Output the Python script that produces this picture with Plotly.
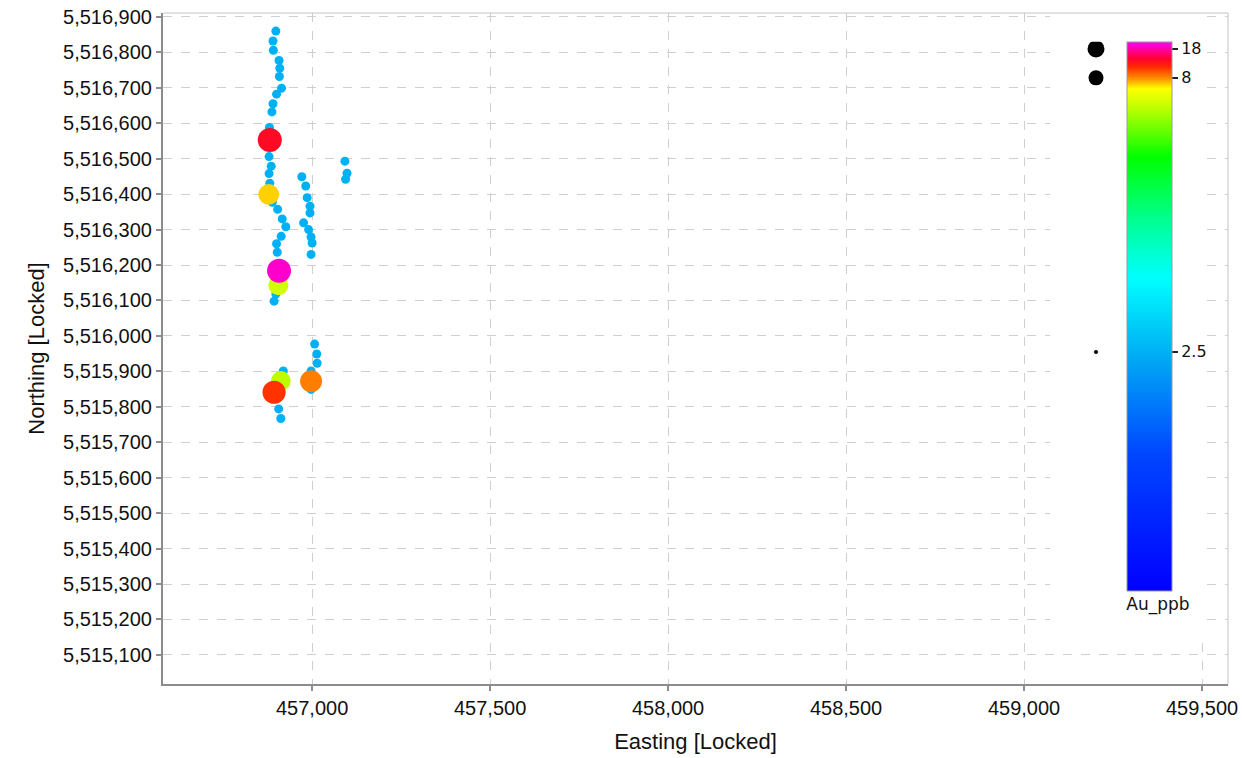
import numpy as np
import plotly.graph_objects as go

# ---------------- data ----------------
easting = [
    456898, 456890, 456891, 456907, 456909, 456908, 456914, 456900, 456890, 456887,
    456880, 456879, 456885, 456879, 456881, 456888, 456903, 456916, 456926, 456913,
    456900, 456902, 456898, 456893,
    456971, 456982, 456986, 456994, 456994, 456976, 456990, 456997, 457000, 456997,
    457092, 457098, 457094,
    457007, 457013, 457014, 456919, 456997, 456997, 456906, 456912,
    456881, 456878, 456907, 456905, 456912, 456997, 456893,
]
northing = [
    5516860, 5516832, 5516806, 5516777, 5516755, 5516732, 5516699, 5516682, 5516655, 5516632,
    5516588, 5516506, 5516479, 5516458, 5516431, 5516377, 5516357, 5516330, 5516308, 5516281,
    5516260, 5516236, 5516118, 5516098,
    5516449, 5516423, 5516390, 5516366, 5516347, 5516319, 5516300, 5516279, 5516262, 5516230,
    5516493, 5516459, 5516442,
    5515977, 5515949, 5515923, 5515901, 5515901, 5515849, 5515794, 5515767,
    5516553, 5516399, 5516184, 5516143, 5515873, 5515872, 5515841,
]
au_ppb = [
    2.5, 2.5, 2.5, 2.5, 2.5, 2.5, 2.5, 2.5, 2.5, 2.5,
    2.5, 2.5, 2.5, 2.5, 2.5, 2.5, 2.5, 2.5, 2.5, 2.5,
    2.5, 2.5, 2.5, 2.5,
    2.5, 2.5, 2.5, 2.5, 2.5, 2.5, 2.5, 2.5, 2.5, 2.5,
    2.5, 2.5, 2.5,
    2.5, 2.5, 2.5, 2.5, 2.5, 2.5, 2.5, 2.5,
    14.0, 7.87, 19.0, 7.5, 7.4, 8.5, 11.5,
]

colorbar_tick_values = [18, 8, 2.5]
colorbar_tick_labels = ["18", "8", "2.5"]
size_legend_values = [18, 8, 2.5]

# ---------------- scales ----------------
# non-linear colour-bar scale (value -> position along the bar)
AU_ANCHORS = [0.0, 2.5, 8.0, 18.0, 20.4]
POS_ANCHORS = [0.0, 0.4353, 0.9344, 0.9872, 1.0]

def color_pos(v):
    return np.interp(v, AU_ANCHORS, POS_ANCHORS)

SIZE_AU = [2.5, 7.5, 8.5, 14.0]
SIZE_PX = [9, 20, 22, 24]

def marker_size(v):
    return np.interp(v, SIZE_AU, SIZE_PX)

LEGEND_DOT_SIZES = [17, 15, 4]

COLORSCALE = [
    [0.0, "rgb(0,0,255)"],
    [0.25, "rgb(0,70,255)"],
    [0.4353, "rgb(0,176,245)"],
    [0.57, "rgb(0,255,255)"],
    [0.68, "rgb(0,255,140)"],
    [0.79, "rgb(0,255,0)"],
    [0.88, "rgb(190,255,0)"],
    [0.915, "rgb(255,255,0)"],
    [0.934, "rgb(255,140,0)"],
    [0.955, "rgb(255,40,0)"],
    [0.97, "rgb(255,0,50)"],
    [1.0, "rgb(255,0,255)"],
]

X_RANGE = [456581, 459573]
Y_RANGE = [5515018, 5516911]

e = np.array(easting, dtype=float)
n = np.array(northing, dtype=float)
a = np.array(au_ppb, dtype=float)
order = np.argsort(a, kind="stable")
e, n, a = e[order], n[order], a[order]

TICK_FONT = dict(family="Liberation Sans, Arial, sans-serif", size=20, color="#111")
TITLE_FONT = dict(family="Liberation Sans, Arial, sans-serif", size=22, color="#111")
CB_FONT = dict(family="DejaVu Sans, Verdana, sans-serif", size=16, color="#111")

fig = go.Figure()

fig.add_trace(go.Scatter(
    x=e, y=n, mode="markers",
    marker=dict(
        size=marker_size(a),
        color=color_pos(a),
        colorscale=COLORSCALE,
        cmin=0, cmax=1,
        line=dict(width=0),
        opacity=1,
        showscale=True,
        colorbar=dict(
            x=0.905, xanchor="left", xpad=0,
            y=0.957, yanchor="top", ypad=0,
            len=0.857, lenmode="fraction",
            thickness=45,
            outlinewidth=1, outlinecolor="#9a9a9a",
            tickmode="array",
            tickvals=list(color_pos(np.array(colorbar_tick_values, dtype=float))),
            ticktext=colorbar_tick_labels,
            ticks="outside", ticklen=6, tickwidth=1.5, tickcolor="#222",
            tickfont=CB_FONT,
            title=dict(text="Au_ppb", side="bottom", font=dict(CB_FONT, size=17)),
        ),
    ),
    showlegend=False,
    hovertemplate="E %{x}<br>N %{y}<extra></extra>",
))

# size key, aligned with the colour-bar ticks
lv = np.array(size_legend_values, dtype=float)
fig.add_trace(go.Scatter(
    x=[0.5] * len(lv), y=color_pos(lv),
    xaxis="x2", yaxis="y2", mode="markers",
    marker=dict(size=LEGEND_DOT_SIZES, color="#000000", opacity=1, line=dict(width=0)),
    showlegend=False, hoverinfo="skip",
))

def xfrac(f):
    return X_RANGE[0] + f * (X_RANGE[1] - X_RANGE[0])

def yfrac(f):
    return Y_RANGE[0] + f * (Y_RANGE[1] - Y_RANGE[0])

fig.update_layout(
    width=1242, height=758,
    margin=dict(l=163, r=14, t=13, b=74, autoexpand=False),
    paper_bgcolor="white", plot_bgcolor="white",
    xaxis=dict(
        range=X_RANGE, automargin=False,
        tick0=457000, dtick=500, tickformat=",d",
        showgrid=True, gridcolor="#cfcfcf", griddash="dash", gridwidth=1,
        zeroline=False,
        showline=True, linecolor="#8c8c8c", linewidth=2,
        ticks="outside", ticklen=5, tickcolor="#8c8c8c", tickwidth=1.5,
        tickfont=TICK_FONT,
        title=dict(text="Easting [Locked]", font=TITLE_FONT, standoff=16),
    ),
    yaxis=dict(
        range=Y_RANGE, automargin=False,
        tick0=5515000, dtick=100, tickformat=",d",
        showgrid=True, gridcolor="#cfcfcf", griddash="dash", gridwidth=1,
        zeroline=False,
        showline=True, linecolor="#8c8c8c", linewidth=2,
        ticks="outside", ticklen=5, tickcolor="#8c8c8c", tickwidth=1.5,
        tickfont=TICK_FONT,
        title=dict(text="Northing [Locked]", font=TITLE_FONT, standoff=12),
    ),
    xaxis2=dict(domain=[0.8667, 0.8854], range=[0, 1], anchor="y2",
                visible=False, showgrid=False, zeroline=False, fixedrange=True),
    yaxis2=dict(domain=[0.1386, 0.957], range=[0, 1], anchor="x2",
                visible=False, showgrid=False, zeroline=False, fixedrange=True),
    shapes=[
        # blank legend panel covering the grid
        dict(type="rect", xref="x", yref="y",
             x0=xfrac(0.833), x1=xfrac(0.980), y0=yfrac(0.070), y1=yfrac(1.0),
             fillcolor="white", line=dict(width=0), layer="between"),
        # light top / right frame
        dict(type="line", xref="paper", yref="paper", x0=0, x1=1, y0=1, y1=1,
             line=dict(color="#c4c4c4", width=1), layer="above"),
        dict(type="line", xref="paper", yref="paper", x0=1, x1=1, y0=0, y1=1,
             line=dict(color="#c4c4c4", width=1), layer="above"),
    ],
)

fig.write_html("out.html")
